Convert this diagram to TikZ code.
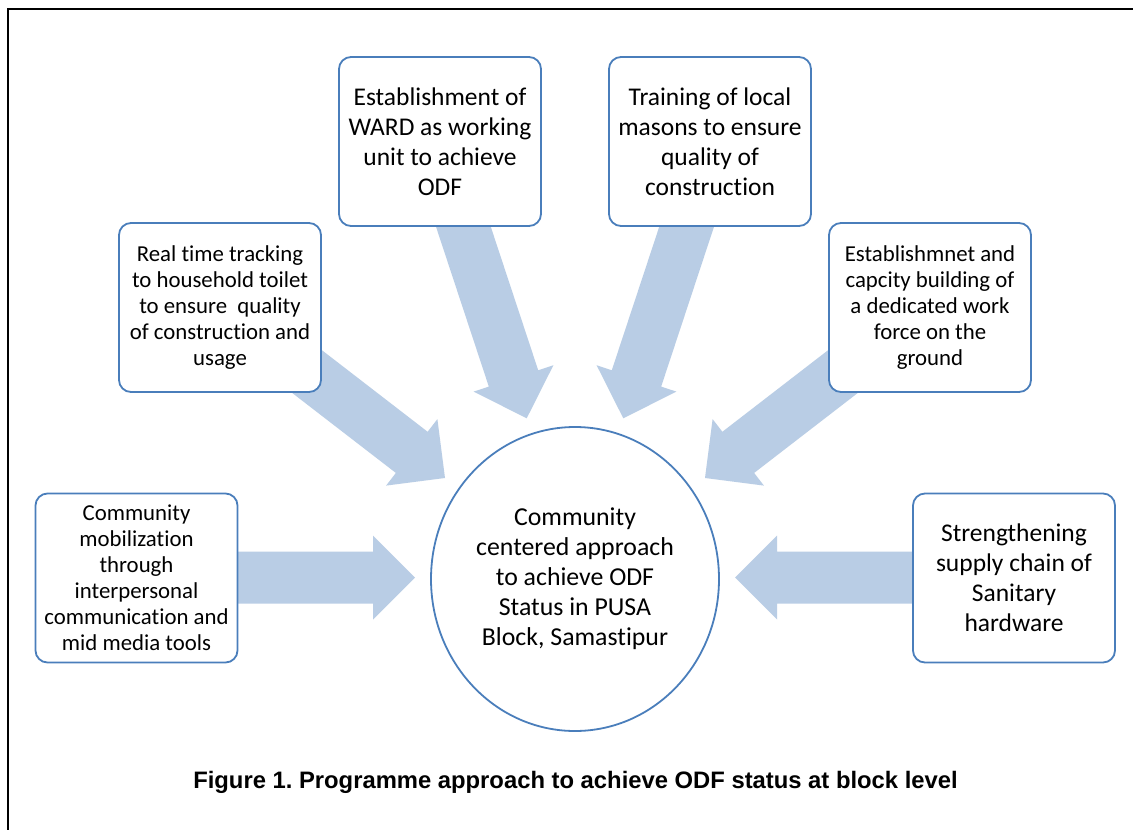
\documentclass[tikz,border=0pt]{standalone}
\usepackage{fontspec}
\setmainfont{Carlito}[Ligatures=NoCommon]
\newfontfamily\capfont{Liberation Sans}
\usetikzlibrary{calc,shapes.geometric}
\definecolor{arrowblue}{HTML}{B9CDE5}
\definecolor{boxblue}{HTML}{4A7EBB}
\tikzset{
  box/.style={draw=boxblue, line width=1.8pt, fill=white, rounded corners=12pt,
    minimum width=202pt, minimum height=169pt, align=center, inner sep=0pt},
  bigtext/.style={font=\fontsize{25.5}{30}\selectfont},
  smalltext/.style={font=\fontsize{22.8}{26}\selectfont},
  hub/.style={ellipse, draw=boxblue, line width=1.8pt, fill=white,
    minimum width=288pt, minimum height=304pt, inner sep=0pt},
  hubtext/.style={align=center, font=\fontsize{25.8}{30}\selectfont, inner sep=0pt},
  arrowfill/.style={fill=arrowblue},
  caption/.style={font=\capfont\bfseries\fontsize{23.8}{28}\selectfont, inner sep=0pt}
}
\newcommand\blockarrow[2]{%
  \coordinate (hb) at ($(#2)!42pt!(#1)$);
  \fill[arrowfill] ($(#1)!26pt!90:(#2)$) -- ($(hb)!26pt!90:(#2)$) -- ($(hb)!42pt!90:(#2)$)
    -- (#2) -- ($(hb)!42pt!-90:(#2)$) -- ($(hb)!26pt!-90:(#2)$) -- ($(#1)!26pt!-90:(#2)$) -- cycle;
}
\begin{document}
\frenchspacing
\begin{tikzpicture}[x=1pt,y=-1pt]
\useasboundingbox (0,0) rectangle (1133,830);
\fill[white] (0,0) rectangle (1133,830);
\draw[line width=2.2pt] (8,830) -- (8,9) -- (1133,9);

% arrow end points
\coordinate (aLt) at (225,577.5);   \coordinate (aLp) at (415,577.5);
\coordinate (aRt) at (925,577.5);   \coordinate (aRp) at (735,577.5);
\coordinate (aULt) at (294,361.5);  \coordinate (aULp) at (445,478);
\coordinate (aURt) at (856,361.5);  \coordinate (aURp) at (705,478);
\coordinate (aTLt) at (456.7,206.5); \coordinate (aTLp) at (526.7,418.3);
\coordinate (aTRt) at (693.3,206.5); \coordinate (aTRp) at (623.3,418.3);

\blockarrow{aLt}{aLp}
\blockarrow{aRt}{aRp}
\blockarrow{aULt}{aULp}
\blockarrow{aURt}{aURp}
\blockarrow{aTLt}{aTLp}
\blockarrow{aTRt}{aTRp}

\node[box, bigtext] (ward) at (440,141.5) {Establishment of\\WARD as working\\unit to achieve\\ODF};
\node[box, bigtext] (masons) at (710,141.5) {Training of local\\masons to ensure\\quality of\\construction};
\node[box, smalltext] (track) at (220,307.5) {Real time tracking\\to household toilet\\to ensure\ \ quality\\of construction and\\usage};
\node[box, smalltext] (force) at (930,307.5) {Establishmnet and\\capcity building of\\a dedicated work\\force on the\\ground};
\node[box, smalltext] (mobil) at (136.5,578) {Community\\mobilization\\through\\interpersonal\\communication and\\mid media tools};
\node[box, bigtext] (supply) at (1014,578) {Strengthening\\supply chain of\\Sanitary\\hardware};

\node[hub] (hubc) at (575,579) {};
\node[hubtext] (hubt) at (hubc) {Community\\centered approach\\to achieve ODF\\Status in PUSA\\Block, Samastipur};

\node[caption] (cap) at (575.5,782) {Figure 1. Programme approach to achieve ODF status at block level};
\end{tikzpicture}
\end{document}
